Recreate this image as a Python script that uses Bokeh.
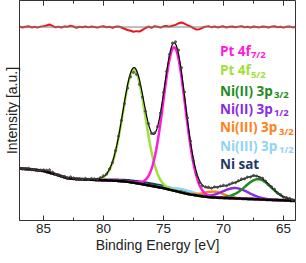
import numpy as np
from bokeh.plotting import figure
from bokeh.models import Range1d, SingleIntervalTicker, FixedTicker, Span, ColumnDataSource
from bokeh.embed import file_html
from bokeh.resources import INLINE
from bokeh.core.properties import value

# ---------------- data ----------------
energy = np.linspace(87.0, 64.0, 93)          # binding energy grid, eV (0.25 eV steps)

# fit residual (data - fit), arbitrary units, on the energy grid
residual = [0.5, -0.5, 0.3, 0.8, -0.4, 0.2, -0.6, 0.4, 0.9, 1.5,
            2.6, 1.2, -0.3, 0.4, -0.5, 0.6, 0.2, 1.4, 0.5, -0.7,
            0.3, -0.2, 0.6, -0.4, 0.5, 0.1, -0.6, 0.4, 0.8, -0.3,
            0.2, -0.8, 0.3, 0.6, -0.5, -1.8, -3.0, -3.8, -4.8, -4.2,
            -4.6, -2.8, -1.0, 0.5, -0.8, 0.9, 0.2, -0.6, 0.7, 1.0,
            0.4, 1.3, 2.2, 3.8, 4.6, 3.5, 1.8, 0.6, -1.2, -2.6,
            -2.2, -0.8, 0.4, 0.9, -0.3, 0.5, -0.4, 0.3, 0.7, -0.5,
            0.2, 0.6, -0.3, 0.4, 0.9, -0.2, 0.3, -0.6, 0.5, 0.1,
            -0.4, 0.6, 0.2, -0.5, 0.4, 0.8, -0.3, 0.2, -0.6, 0.3,
            0.5, -0.4, 0.2]
residual_level = 197.0

# Shirley-type background
bg_energy = [87, 86, 85, 84, 83, 82, 81, 80, 79, 78, 77, 76,
             75, 74, 73, 72, 71, 70, 69, 68, 67, 66, 65, 64]
bg_level = [53, 52, 50.5, 47, 43, 42, 41.5, 41, 40.5, 39.5, 37.5, 35.2,
            33, 30, 27, 25, 23.5, 23, 22.5, 22, 21.5, 21, 20.5, 20]

# fitted components
names = ["Pt 4f7/2", "Pt 4f5/2", "Ni(II) 3p3/2", "Ni(II) 3p1/2",
         "Ni(III) 3p3/2", "Ni(III) 3p1/2", "Ni sat"]
centers = [74.1, 77.45, 67.1, 69.0, 70.8, 73.3, 76.0]
heights = [146.0, 115.0, 20.5, 10.5, 6.0, 3.5, 2.0]
fwhms = [2.15, 2.2, 2.6, 2.6, 2.0, 2.4, 5.0]
lorentz = [0.03, 0.03, 0.1, 0.1, 0.1, 0.1, 0.1]
colors = ["#ff1ad9", "#a0e03a", "#1e8c1e", "#8a2be2",
          "#ff8019", "#8fd3f5", "#1f3864"]
label_main = ["Pt 4f", "Pt 4f", "Ni(II) 3p", "Ni(II) 3p", "Ni(III) 3p", "Ni(III) 3p", "Ni sat"]
label_sub = ["7/2", "5/2", "3/2", "1/2", "3/2", "1/2"]

# axis ticks
major_ticks = [85, 80, 75, 70, 65]
minor_ticks = [82.5, 77.5, 72.5, 67.5]

# ---------------- model curves ----------------
fine = np.linspace(87.0, 64.0, 461)
bg_fine = np.interp(fine, bg_energy[::-1], bg_level[::-1])
bg_grid = np.interp(energy, bg_energy[::-1], bg_level[::-1])


def pv(x, c, h, w, m):
    d2 = (x - c) ** 2
    return h * ((1 - m) * np.exp(-4 * np.log(2) * d2 / w ** 2) + m / (1 + 4 * d2 / w ** 2))


comps_fine = [pv(fine, c, h, w, m) for c, h, w, m in zip(centers, heights, fwhms, lorentz)]
comps_grid = [pv(energy, c, h, w, m) for c, h, w, m in zip(centers, heights, fwhms, lorentz)]
envelope_fine = bg_fine + np.sum(comps_fine, axis=0)
envelope_grid = bg_grid + np.sum(comps_grid, axis=0)
measured = envelope_grid + np.array(residual)

# ---------------- figure ----------------
Y_TOP = 224.0
p = figure(width=298, height=255, output_backend="svg", toolbar_location=None,
           x_range=Range1d(87.0, 64.0), y_range=Range1d(0, Y_TOP),
           min_border_left=0, min_border_right=3, min_border_top=0, min_border_bottom=0)
p.grid.visible = False
p.outline_line_color = "#333333"
p.background_fill_color = "white"
p.border_fill_color = "white"

ax = p.xaxis[0]
ax.ticker = SingleIntervalTicker(interval=5, num_minor_ticks=2)
ax.major_tick_in = 5
ax.major_tick_out = 0
ax.minor_tick_in = 3
ax.minor_tick_out = 0
ax.axis_line_color = "#333333"
ax.major_tick_line_color = "#333333"
ax.minor_tick_line_color = "#333333"
ax.major_label_text_font = "Liberation Sans"
ax.major_label_text_font_size = "13.5px"
ax.major_label_text_color = "#222222"
ax.major_label_standoff = 3
ax.axis_label = "Binding Energy [eV]"
ax.axis_label_text_font = "Liberation Sans"
ax.axis_label_text_font_size = "14px"
ax.axis_label_text_font_style = "normal"
ax.axis_label_text_color = "#222222"
ax.axis_label_standoff = 1

# inward ticks on the top edge
p.segment(x0=major_ticks, y0=[Y_TOP] * len(major_ticks), x1=major_ticks,
          y1=[Y_TOP - 5.3] * len(major_ticks), line_color="#333333", line_width=1)
p.segment(x0=minor_ticks, y0=[Y_TOP] * len(minor_ticks), x1=minor_ticks,
          y1=[Y_TOP - 3.2] * len(minor_ticks), line_color="#333333", line_width=1)

p.yaxis.ticker = FixedTicker(ticks=[])
p.yaxis.axis_label = "Intensity [a.u.]"
p.yaxis.axis_label_text_font = "Liberation Sans"
p.yaxis.axis_label_text_font_size = "14px"
p.yaxis.axis_label_text_font_style = "normal"
p.yaxis.axis_label_text_color = "#222222"
p.yaxis.axis_label_standoff = 0
p.yaxis.major_label_standoff = 0
p.yaxis.major_tick_out = 0
p.yaxis.axis_line_color = "#333333"

# residual
p.add_layout(Span(location=residual_level, dimension="width", line_color="#808080", line_width=1))
p.line(energy, residual_level + np.array(residual), line_color="#e8141c", line_width=2)

# components (drawn on the background, the background line on top of them)
for k in [6, 5, 4, 3, 2, 1, 0]:
    p.line(fine, bg_fine + comps_fine[k], line_color=colors[k],
           line_width=3 if k == 6 else 2.5)
p.line(fine, bg_fine, line_color="black", line_width=2.5)

# envelope and data
p.line(fine, envelope_fine, line_color="black", line_width=1.2)
p.scatter(energy, measured, size=2.2, color="#444444", alpha=0.8)

# legend texts
leg_y = [173, 153, 132, 114, 95, 76, 58]
leg_x = [70.3] * 7
sub_dx = [31, 31, 54, 54, 59, 59]
src = ColumnDataSource(dict(x=leg_x, y=leg_y, t=label_main, c=colors))
p.text(x="x", y="y", text="t", text_color="c", source=src, text_font=value("Open Sans"),
       text_font_style="bold", text_font_size="13.5px", text_baseline="middle")
src_sub = ColumnDataSource(dict(x=leg_x[:6], y=leg_y[:6], s=label_sub, c=colors[:6], dx=sub_dx))
p.text(x="x", y="y", text="s", text_color="c", source=src_sub, text_font=value("Open Sans"),
       text_font_style="bold", text_font_size="9.5px", text_baseline="middle",
       x_offset="dx", y_offset=4)

open("out.html", "w").write(file_html(p, INLINE))
